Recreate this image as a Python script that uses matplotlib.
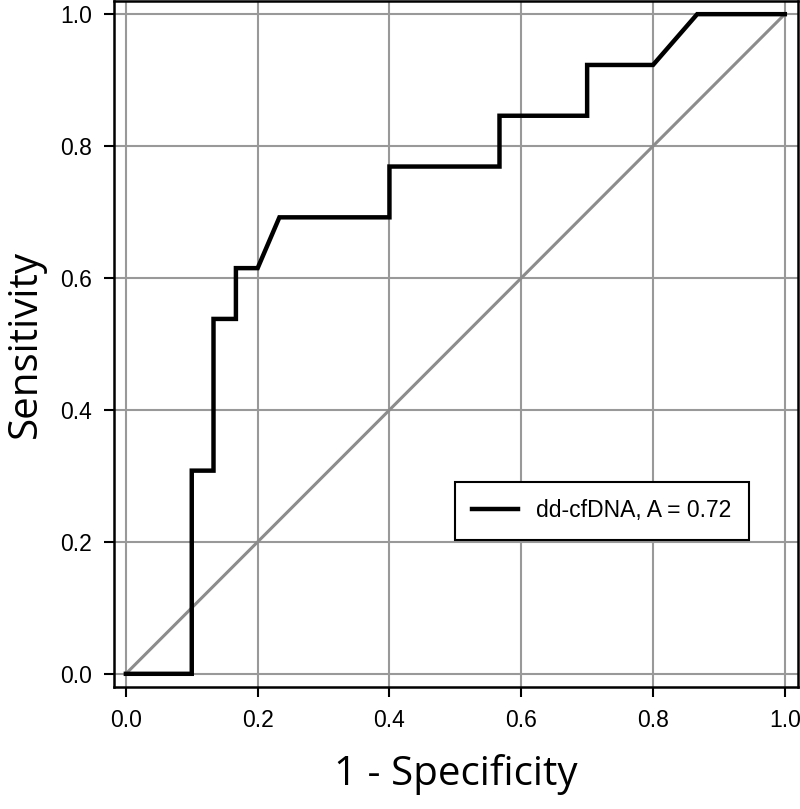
import matplotlib
matplotlib.use('Agg')
import matplotlib.pyplot as plt

# Data ------------------------------------------------------------------------

fpr = [0.0, 0.1, 0.1, 0.133, 0.133, 0.167, 0.167, 0.2, 0.233, 0.4, 0.4,
       0.567, 0.567, 0.7, 0.7, 0.8, 0.867, 1.0]
tpr = [0.0, 0.0, 0.308, 0.308, 0.538, 0.538, 0.615, 0.615, 0.692, 0.692, 0.769,
       0.769, 0.846, 0.846, 0.923, 0.923, 1.0, 1.0]
label = 'dd-cfDNA, A = 0.72'
ticks = [0.0, 0.2, 0.4, 0.6, 0.8, 1.0]
tick_labels = ['0.0', '0.2', '0.4', '0.6', '0.8', '1.0']

# Plot ------------------------------------------------------------------------

fig = plt.figure(figsize=(8, 8.09), dpi=100)
ax = fig.add_axes([0.1425, 0.1508, 0.855, 0.848])

ax.grid(True, color='#999999', linewidth=1.5)
ax.set_axisbelow(True)
ax.plot([0, 1], [0, 1], color='#8c8c8c', linewidth=2.2, zorder=2)
ax.plot(fpr, tpr, color='black', linewidth=3.2, label=label, zorder=3,
        solid_joinstyle='miter')

ax.set_xlim(-0.018, 1.02)
ax.set_ylim(-0.02, 1.02)
ax.set_xticks(ticks)
ax.set_yticks(ticks)
ax.set_xticklabels(tick_labels, family='Liberation Sans', fontsize=16.5)
ax.set_yticklabels(tick_labels, family='Liberation Sans', fontsize=16.5)
ax.tick_params(direction='out', length=7, width=1.5, color='black', pad=9)
for s in ax.spines.values():
    s.set_linewidth(1.8)
    s.set_color('black')

ax.set_xlabel('1 - Specificity', family='Open Sans', fontsize=29, labelpad=16)
ax.set_ylabel('Sensitivity', family='Open Sans', fontsize=29, labelpad=10)

leg = ax.legend(loc='center', bbox_to_anchor=(0.713, 0.2566), fancybox=False,
                framealpha=1, edgecolor='black', handlelength=2.0,
                borderpad=0.75, prop={'family': 'Liberation Sans', 'size': 16.5})
leg.get_frame().set_linewidth(1.5)

fig.savefig('out.png', dpi=100)
